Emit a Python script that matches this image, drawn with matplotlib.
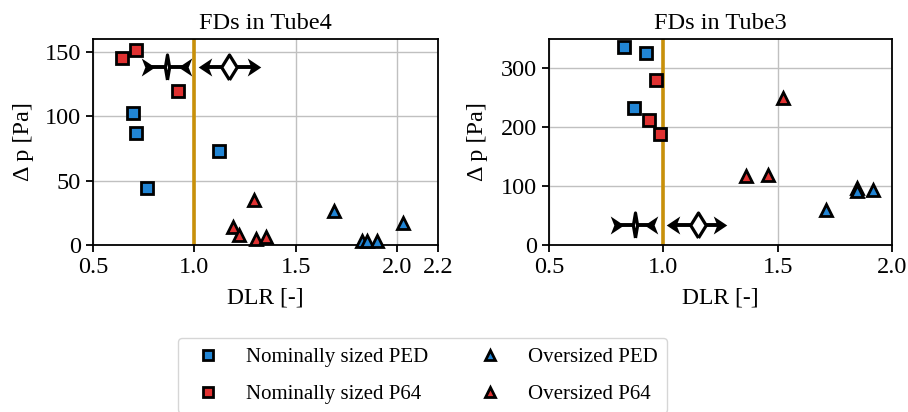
import matplotlib
matplotlib.use("Agg")
import matplotlib.pyplot as plt
from matplotlib.lines import Line2D

plt.rcParams['font.family'] = ['Liberation Serif', 'DejaVu Serif']

blue = '#2185d5'
red = '#e03131'
gold = '#c8900a'

# Tube4 data: (DLR, dp)
t4_nom_ped_x = [0.697, 0.710, 0.766, 1.123]
t4_nom_ped_y = [102.7, 87.2, 44.0, 73.2]
t4_nom_p64_x = [0.641, 0.711, 0.918]
t4_nom_p64_y = [145.3, 151.3, 119.5]
t4_ovr_p64_x = [1.292, 1.189, 1.221, 1.303, 1.352]
t4_ovr_p64_y = [35.0, 14.0, 7.5, 4.4, 6.0]
t4_ovr_ped_x = [1.689, 1.825, 1.849, 1.898, 2.025]
t4_ovr_ped_y = [26.6, 3.0, 3.0, 3.0, 16.8]

# Tube3 data
t3_nom_ped_x = [0.828, 0.926, 0.871]
t3_nom_ped_y = [336.7, 325.4, 232.4]
t3_nom_p64_x = [0.968, 0.937, 0.985]
t3_nom_p64_y = [280.9, 212.6, 189.0]
t3_ovr_p64_x = [1.363, 1.456, 1.522]
t3_ovr_p64_y = [118.0, 118.5, 249.0]
t3_ovr_ped_x = [1.713, 1.846, 1.846, 1.916]
t3_ovr_ped_y = [60.0, 97.0, 91.0, 93.5]

# icons: left head x, diamond x, right head x, inward arrows?
t4_icon_y = 138.5
t4_icons = [(0.771, 0.866, 0.951, True), (1.054, 1.172, 1.295, False)]
t3_icon_y = 34.0
t3_icons = [(0.799, 0.876, 0.946, True), (1.041, 1.152, 1.247, False)]

fig = plt.figure(figsize=(9.08, 4.12), dpi=100)
ax1 = fig.add_axes([0.1024, 0.4053, 0.38, 0.5])
ax2 = fig.add_axes([0.6046, 0.4053, 0.3778, 0.5])

mew = 2.0
fs = 17.5

# notched arrow heads and diamonds as custom markers
head_r = [(-0.75, -1), (0.75, 0), (-0.75, 1), (-0.35, 0), (-0.75, -1)]
head_l = [(-x, y) for x, y in head_r]
thin_d = [(0, -1), (0.17, 0), (0, 1), (-0.17, 0), (0, -1)]
wide_d = [(0, -1), (0.62, 0), (0, 1), (-0.62, 0), (0, -1)]


def draw(ax, data, icons, icon_y):
    ax.grid(True, color='#c0c0c0', lw=1.0, zorder=0)
    ax.axvline(1.0, color=gold, lw=2.6, zorder=2)
    for xs, ys, m, c in data:
        ax.plot(xs, ys, ls='none', marker=m, ms=8 if m == 's' else 9,
                mfc=c, mec='k', mew=mew, zorder=3, clip_on=False)
    for xl, xd, xr, inward in icons:
        ax.plot([xl, xr], [icon_y, icon_y], color='k', lw=2.8, zorder=4)
        ax.plot([xl], [icon_y], ls='none', marker=head_r if inward else head_l,
                ms=13, color='k', mew=0, zorder=4)
        ax.plot([xr], [icon_y], ls='none', marker=head_l if inward else head_r,
                ms=13, color='k', mew=0, zorder=4)
        ax.plot([xd], [icon_y], ls='none', marker=thin_d if inward else wide_d,
                ms=18, mfc='white', mec='k', mew=2.3, zorder=5)
    for s in ax.spines.values():
        s.set_linewidth(1.3)
    ax.tick_params(labelsize=fs, width=1.3, length=5)
    ax.set_xlabel('DLR [-]', fontsize=17, labelpad=7)
    ax.set_ylabel('Δ p [Pa]', fontsize=17.5)


draw(ax1, [(t4_nom_ped_x, t4_nom_ped_y, 's', blue),
           (t4_nom_p64_x, t4_nom_p64_y, 's', red),
           (t4_ovr_p64_x, t4_ovr_p64_y, '^', red),
           (t4_ovr_ped_x, t4_ovr_ped_y, '^', blue)], t4_icons, t4_icon_y)
draw(ax2, [(t3_nom_ped_x, t3_nom_ped_y, 's', blue),
           (t3_nom_p64_x, t3_nom_p64_y, 's', red),
           (t3_ovr_p64_x, t3_ovr_p64_y, '^', red),
           (t3_ovr_ped_x, t3_ovr_ped_y, '^', blue)], t3_icons, t3_icon_y)
ax1.yaxis.set_label_coords(-0.172, 0.5)
ax2.yaxis.set_label_coords(-0.178, 0.5)

ax1.set_xlim(0.5, 2.2)
ax1.set_ylim(0, 160)
ax1.set_xticks([0.5, 1.0, 1.5, 2.0, 2.2])
ax1.set_xticklabels(['0.5', '1.0', '1.5', '2.0', '2.2'])
ax1.set_yticks([0, 50, 100, 150])
ax1.set_title('FDs in Tube4', fontsize=17.5, pad=7)

ax2.set_xlim(0.5, 2.0)
ax2.set_ylim(0, 350)
ax2.set_xticks([0.5, 1.0, 1.5, 2.0])
ax2.set_yticks([0, 100, 200, 300])
ax2.set_title('FDs in Tube3', fontsize=17.5, pad=7)

handles = [Line2D([], [], ls='none', marker='s', ms=6.5, mfc=blue, mec='k', mew=2),
           Line2D([], [], ls='none', marker='s', ms=6.5, mfc=red, mec='k', mew=2),
           Line2D([], [], ls='none', marker='^', ms=6.5, mfc=blue, mec='k', mew=2),
           Line2D([], [], ls='none', marker='^', ms=6.5, mfc=red, mec='k', mew=2)]
labels = ['Nominally sized PED', 'Nominally sized P64',
          'Oversized PED', 'Oversized P64']
fig.legend(handles, labels, ncol=2, loc='upper center',
           bbox_to_anchor=(0.4653, 0.18), fontsize=15, frameon=True,
           handletextpad=0.8, columnspacing=2.0, labelspacing=0.85,
           borderpad=0.45, borderaxespad=0, edgecolor='#cccccc')

fig.savefig('out.png', dpi=100)
